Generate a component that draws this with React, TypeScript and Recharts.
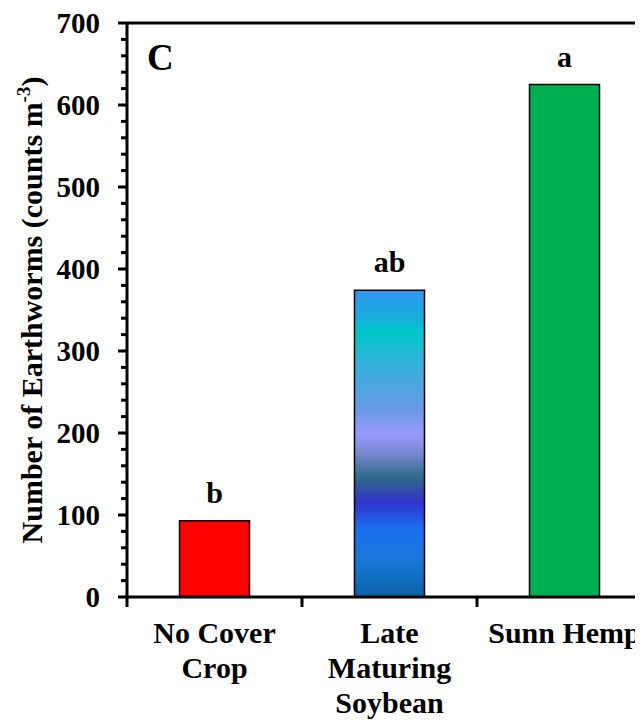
import { BarChart, Bar, XAxis, YAxis, Cell, LabelList, ReferenceLine } from "recharts";

const CATEGORIES = ["No Cover Crop", "Late Maturing Soybean", "Sunn Hemp"];
const CATEGORY_LINES = [["No Cover", "Crop"], ["Late", "Maturing", "Soybean"], ["Sunn Hemp"]];
const EARTHWORMS = [93, 374, 625];
const LETTERS = ["b", "ab", "a"];
const BAR_FILLS = ["#ff0000", "url(#soybeanFill)", "#00b050"];

const Y_TICKS = [
  0, 20, 40, 60, 80, 100, 120, 140, 160, 180, 200, 220, 240, 260, 280, 300, 320, 340,
  360, 380, 400, 420, 440, 460, 480, 500, 520, 540, 560, 580, 600, 620, 640, 660, 680, 700,
];

// colour bands of the soybean bar, top to bottom
const SOYBEAN_STOPS = [
  { offset: "0%", color: "#2f96f0" },
  { offset: "9%", color: "#19aedd" },
  { offset: "14%", color: "#00c8c8" },
  { offset: "22%", color: "#2bb5d8" },
  { offset: "39%", color: "#6a9ae6" },
  { offset: "47%", color: "#9999ff" },
  { offset: "53%", color: "#7888d0" },
  { offset: "61%", color: "#2e6a88" },
  { offset: "65%", color: "#3050a8" },
  { offset: "69%", color: "#3333cc" },
  { offset: "78%", color: "#1a70f0" },
  { offset: "88%", color: "#1878d8" },
  { offset: "100%", color: "#0b62a5" },
];

const data = CATEGORIES.map((name, i) => ({ name, value: EARTHWORMS[i] }));

const SERIF = { fontFamily: '"Liberation Serif", "Times New Roman", serif' };
const CHART_W = 660;
const CHART_H = 720;
const Y_AXIS_W = 127;
const MARGIN = { top: 23, right: 8, left: 0, bottom: 0 };
const HALF_BAND = (CHART_W - Y_AXIS_W - MARGIN.right) / CATEGORIES.length / 2;

function YTick(props: any) {
  const { x, y, payload } = props;
  const major = payload.value % 100 === 0;
  return (
    <g>
      <line x1={x - (major ? 9 : 6)} x2={x} y1={y} y2={y} stroke="#000" strokeWidth={3} />
      {major && (
        <text x={x - 27} y={y} dy="0.34em" textAnchor="end" fontSize={29} fontWeight="bold" fill="#000" style={SERIF}>
          {payload.value}
        </text>
      )}
    </g>
  );
}

function XTick(props: any) {
  const { x, y, payload } = props;
  const lines = CATEGORY_LINES[payload.index] || [payload.value];
  const last = payload.index === CATEGORIES.length - 1;
  return (
    <g>
      <line x1={x - HALF_BAND} x2={x - HALF_BAND} y1={y} y2={y + 10} stroke="#000" strokeWidth={3} />
      {last && <line x1={x + HALF_BAND} x2={x + HALF_BAND} y1={y} y2={y + 10} stroke="#000" strokeWidth={3} />}
      {lines.map((ln, i) => (
        <text key={i} x={x} y={y + 46 + i * 35} textAnchor="middle" fontSize={30} fontWeight="bold" fill="#000" style={SERIF}>
          {ln}
        </text>
      ))}
    </g>
  );
}

function YTitle() {
  const cx = 42;
  const cy = 310;
  return (
    <text x={cx} y={cy} transform={`rotate(-90, ${cx}, ${cy})`} textAnchor="middle" fontSize={30} fontWeight="bold" fill="#000" style={SERIF}>
      Number of Earthworms (counts m
      <tspan fontSize={19} dy={-12}>-3</tspan>
      <tspan dy={12}>)</tspan>
    </text>
  );
}

function PanelLetter(props: any) {
  const { viewBox } = props;
  return (
    <text x={viewBox.x + 20} y={viewBox.y + 47} fontSize={37} fontWeight="bold" fill="#000" style={SERIF}>
      C
    </text>
  );
}

function SigLetter(props: any) {
  const { x, y, width, index } = props;
  return (
    <text x={x + width / 2} y={y - 18} textAnchor="middle" fontSize={30} fontWeight="bold" fill="#000" style={SERIF}>
      {LETTERS[index]}
    </text>
  );
}

export default function App() {
  return (
    <div style={{ marginLeft: -8, marginTop: -8, width: 643, height: 720, overflow: "hidden", background: "#fff" }}>
      <BarChart width={CHART_W} height={CHART_H} data={data} margin={MARGIN} barCategoryGap="30%">
        <defs>
          <linearGradient id="soybeanFill" x1="0" y1="0" x2="0" y2="1">
            {SOYBEAN_STOPS.map((s) => (
              <stop key={s.offset} offset={s.offset} stopColor={s.color} />
            ))}
          </linearGradient>
        </defs>
        <XAxis dataKey="name" height={123} axisLine={{ stroke: "#000", strokeWidth: 3 }} tickLine={false} tickSize={0} tickMargin={0} interval={0} tick={<XTick />} />
        <YAxis
          width={Y_AXIS_W}
          domain={[0, 700]}
          ticks={Y_TICKS}
          interval={0}
          axisLine={{ stroke: "#000", strokeWidth: 3 }}
          tickLine={false}
          tickSize={0}
          tickMargin={0}
          tick={<YTick />}
          label={{ content: <YTitle /> }}
        />
        <ReferenceLine y={700} stroke="#000" strokeWidth={3} label={<PanelLetter />} />
        <Bar dataKey="value" stroke="#000" strokeWidth={1.5} isAnimationActive={false}>
          {data.map((d, i) => (
            <Cell key={d.name} fill={BAR_FILLS[i]} />
          ))}
          <LabelList dataKey="value" content={<SigLetter />} />
        </Bar>
      </BarChart>
    </div>
  );
}
